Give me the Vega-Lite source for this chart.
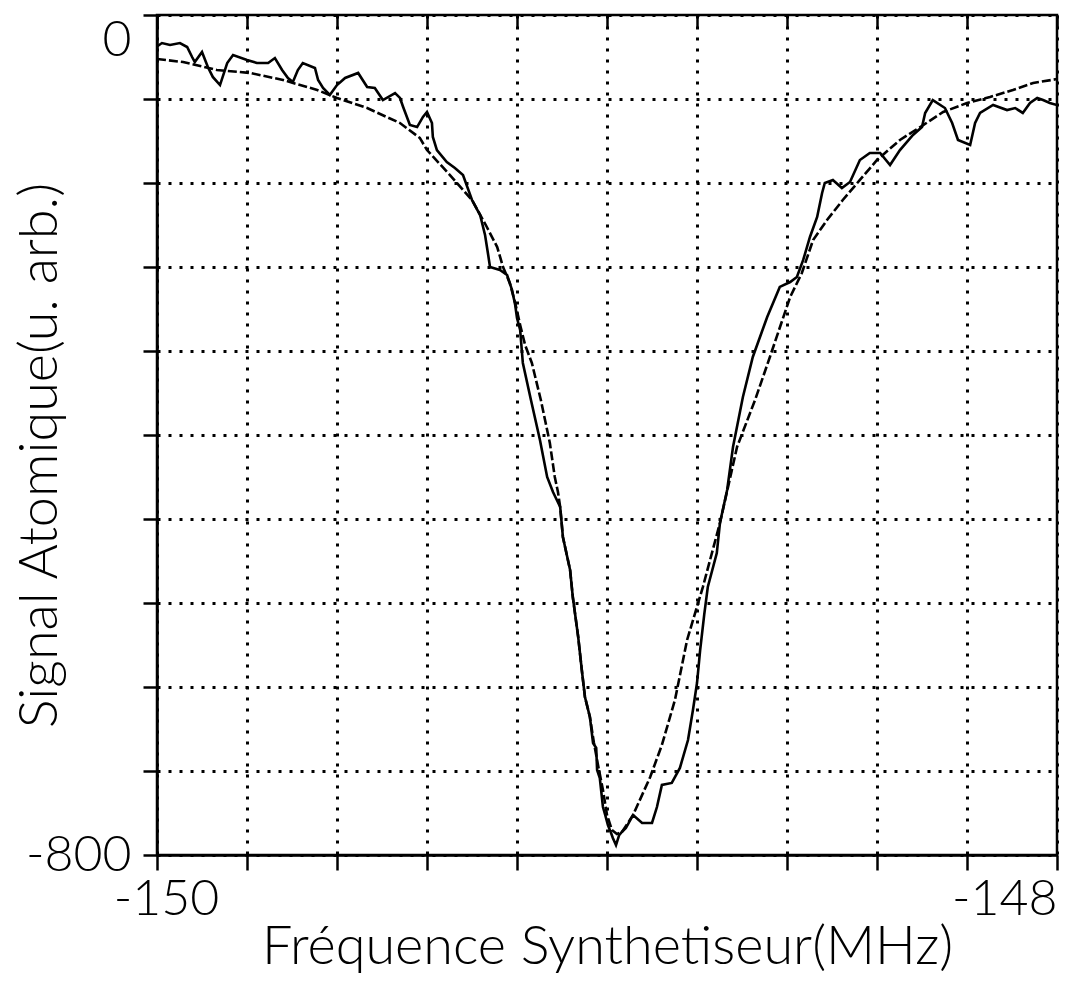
{
  "$schema": "https://vega.github.io/schema/vega-lite/v6.json",
  "width": 900,
  "height": 840,
  "autosize": "none",
  "padding": {"left": 157, "top": 15, "right": 8, "bottom": 128},
  "background": "white",
  "config": {
    "view": {"stroke": "black", "strokeWidth": 2.5},
    "font": "Lato",
    "axis": {
      "labelFont": "Lato",
      "titleFont": "Lato",
      "labelFontWeight": 300,
      "titleFontWeight": 300,
      "labelColor": "black",
      "titleColor": "black",
      "labelFontSize": 50,
      "titleFontSize": 54,
      "domainColor": "black",
      "domainWidth": 2.5,
      "tickColor": "black",
      "tickWidth": 2.5,
      "gridColor": "black",
      "gridOpacity": 1,
      "gridWidth": 3,
      "gridDash": [3, 8]
    }
  },
  "datasets": {
    "fit": [
      {"f": -150.0, "s": -41.9}, {"f": -149.942, "s": -44.8}, {"f": -149.867, "s": -52.4},
      {"f": -149.793, "s": -55.2}, {"f": -149.72, "s": -61.9}, {"f": -149.644, "s": -71.4},
      {"f": -149.6, "s": -79.0}, {"f": -149.533, "s": -88.6}, {"f": -149.46, "s": -102.9},
      {"f": -149.416, "s": -117.1}, {"f": -149.4, "s": -128.6}, {"f": -149.349, "s": -152.4},
      {"f": -149.3, "s": -176.2}, {"f": -149.267, "s": -201.9}, {"f": -149.244, "s": -221.0},
      {"f": -149.231, "s": -240.0}, {"f": -149.216, "s": -255.2}, {"f": -149.204, "s": -274.3},
      {"f": -149.193, "s": -295.2}, {"f": -149.182, "s": -314.3}, {"f": -149.167, "s": -331.4},
      {"f": -149.147, "s": -366.7}, {"f": -149.127, "s": -407.6}, {"f": -149.116, "s": -440.0},
      {"f": -149.109, "s": -454.3}, {"f": -149.104, "s": -468.6}, {"f": -149.098, "s": -497.1},
      {"f": -149.082, "s": -528.6}, {"f": -149.076, "s": -554.3}, {"f": -149.064, "s": -592.4},
      {"f": -149.056, "s": -623.8}, {"f": -149.049, "s": -649.5}, {"f": -149.038, "s": -668.6},
      {"f": -149.029, "s": -693.3}, {"f": -149.02, "s": -714.3}, {"f": -149.009, "s": -738.1},
      {"f": -149.0, "s": -761.9}, {"f": -148.989, "s": -776.2}, {"f": -148.978, "s": -780.0},
      {"f": -148.967, "s": -778.1}, {"f": -148.942, "s": -761.9}, {"f": -148.904, "s": -725.7},
      {"f": -148.878, "s": -695.2}, {"f": -148.849, "s": -652.4}, {"f": -148.822, "s": -595.2},
      {"f": -148.787, "s": -544.8}, {"f": -148.749, "s": -483.8}, {"f": -148.711, "s": -411.4},
      {"f": -148.671, "s": -366.7}, {"f": -148.638, "s": -325.7}, {"f": -148.593, "s": -268.6},
      {"f": -148.567, "s": -245.7}, {"f": -148.542, "s": -214.3}, {"f": -148.511, "s": -195.2},
      {"f": -148.476, "s": -176.2}, {"f": -148.438, "s": -157.1}, {"f": -148.4, "s": -138.1},
      {"f": -148.349, "s": -119.0}, {"f": -148.304, "s": -106.7}, {"f": -148.253, "s": -92.4},
      {"f": -148.2, "s": -83.8}, {"f": -148.149, "s": -78.1}, {"f": -148.098, "s": -71.4},
      {"f": -148.053, "s": -64.8}, {"f": -148.0, "s": -61.0}
    ],
    "mesure": [
      {"f": -150.0, "s": -30.0},
      {"f": -149.989, "s": -26.7}, {"f": -149.971, "s": -28.6}, {"f": -149.949, "s": -26.7},
      {"f": -149.933, "s": -30.5}, {"f": -149.922, "s": -40.0}, {"f": -149.916, "s": -44.8},
      {"f": -149.9, "s": -35.2}, {"f": -149.887, "s": -49.5}, {"f": -149.876, "s": -59.0},
      {"f": -149.86, "s": -66.7}, {"f": -149.844, "s": -45.7}, {"f": -149.831, "s": -38.1},
      {"f": -149.8, "s": -42.9}, {"f": -149.778, "s": -45.7}, {"f": -149.753, "s": -45.7},
      {"f": -149.738, "s": -41.0}, {"f": -149.722, "s": -52.4}, {"f": -149.709, "s": -60.0},
      {"f": -149.698, "s": -63.8}, {"f": -149.687, "s": -52.4}, {"f": -149.676, "s": -45.7},
      {"f": -149.649, "s": -50.5}, {"f": -149.642, "s": -61.9}, {"f": -149.631, "s": -69.5},
      {"f": -149.616, "s": -76.2}, {"f": -149.6, "s": -66.7}, {"f": -149.582, "s": -60.0},
      {"f": -149.553, "s": -55.2}, {"f": -149.533, "s": -68.6}, {"f": -149.516, "s": -69.5},
      {"f": -149.498, "s": -81.0}, {"f": -149.471, "s": -74.3}, {"f": -149.46, "s": -79.0},
      {"f": -149.453, "s": -87.6}, {"f": -149.438, "s": -104.8}, {"f": -149.422, "s": -106.7},
      {"f": -149.409, "s": -97.1}, {"f": -149.4, "s": -92.4}, {"f": -149.389, "s": -102.9},
      {"f": -149.387, "s": -116.2}, {"f": -149.378, "s": -128.6}, {"f": -149.356, "s": -140.0},
      {"f": -149.338, "s": -145.7}, {"f": -149.32, "s": -152.4}, {"f": -149.3, "s": -176.2},
      {"f": -149.282, "s": -190.5}, {"f": -149.271, "s": -209.5}, {"f": -149.264, "s": -228.6},
      {"f": -149.26, "s": -240.0}, {"f": -149.238, "s": -242.9}, {"f": -149.222, "s": -247.6},
      {"f": -149.211, "s": -261.9}, {"f": -149.204, "s": -276.2}, {"f": -149.2, "s": -288.6},
      {"f": -149.193, "s": -300.0}, {"f": -149.189, "s": -321.0}, {"f": -149.187, "s": -331.4},
      {"f": -149.169, "s": -366.7}, {"f": -149.149, "s": -404.8}, {"f": -149.133, "s": -440.0},
      {"f": -149.12, "s": -454.3}, {"f": -149.104, "s": -468.6}, {"f": -149.098, "s": -497.1},
      {"f": -149.082, "s": -528.6}, {"f": -149.076, "s": -554.3}, {"f": -149.064, "s": -592.4},
      {"f": -149.056, "s": -623.8}, {"f": -149.049, "s": -649.5}, {"f": -149.038, "s": -668.6},
      {"f": -149.031, "s": -693.3}, {"f": -149.024, "s": -698.1}, {"f": -149.022, "s": -719.0},
      {"f": -149.016, "s": -726.7}, {"f": -149.009, "s": -754.3}, {"f": -149.004, "s": -761.9},
      {"f": -148.998, "s": -771.4}, {"f": -148.991, "s": -779.0}, {"f": -148.987, "s": -783.8},
      {"f": -148.98, "s": -790.5}, {"f": -148.973, "s": -781.0}, {"f": -148.967, "s": -778.1},
      {"f": -148.958, "s": -774.3}, {"f": -148.942, "s": -761.9}, {"f": -148.922, "s": -769.5},
      {"f": -148.9, "s": -769.5}, {"f": -148.889, "s": -754.3}, {"f": -148.878, "s": -733.3},
      {"f": -148.856, "s": -731.4}, {"f": -148.838, "s": -717.1}, {"f": -148.82, "s": -690.5},
      {"f": -148.809, "s": -661.9}, {"f": -148.8, "s": -636.2}, {"f": -148.793, "s": -604.8},
      {"f": -148.784, "s": -571.4}, {"f": -148.776, "s": -544.8}, {"f": -148.756, "s": -512.4},
      {"f": -148.749, "s": -483.8}, {"f": -148.733, "s": -452.4}, {"f": -148.72, "s": -411.4},
      {"f": -148.698, "s": -363.8}, {"f": -148.676, "s": -325.7}, {"f": -148.644, "s": -287.6},
      {"f": -148.616, "s": -259.0}, {"f": -148.593, "s": -254.3}, {"f": -148.578, "s": -249.5},
      {"f": -148.564, "s": -233.3}, {"f": -148.549, "s": -211.4}, {"f": -148.533, "s": -192.4},
      {"f": -148.522, "s": -169.5}, {"f": -148.516, "s": -160.0}, {"f": -148.498, "s": -157.1},
      {"f": -148.478, "s": -164.8}, {"f": -148.46, "s": -159.0}, {"f": -148.438, "s": -138.1},
      {"f": -148.416, "s": -131.4}, {"f": -148.393, "s": -131.4}, {"f": -148.371, "s": -142.9},
      {"f": -148.349, "s": -128.6}, {"f": -148.32, "s": -114.3}, {"f": -148.3, "s": -106.7},
      {"f": -148.293, "s": -93.3}, {"f": -148.276, "s": -81.0}, {"f": -148.249, "s": -88.6},
      {"f": -148.233, "s": -102.9}, {"f": -148.22, "s": -119.0}, {"f": -148.193, "s": -123.8},
      {"f": -148.182, "s": -102.9}, {"f": -148.171, "s": -93.3}, {"f": -148.142, "s": -85.7},
      {"f": -148.111, "s": -90.5}, {"f": -148.093, "s": -88.6}, {"f": -148.076, "s": -93.3},
      {"f": -148.06, "s": -83.8}, {"f": -148.044, "s": -79.0}, {"f": -148.031, "s": -81.0},
      {"f": -148.016, "s": -83.8}, {"f": -148.0, "s": -85.7}
    ]
  },
  "encoding": {
    "y": {
      "field": "s",
      "type": "quantitative",
      "scale": {"domain": [-800, 0], "nice": false, "zero": false},
      "axis": {
        "values": [0, -80, -160, -240, -320, -400, -480, -560, -640, -720, -800],
        "labelExpr": "datum.value == 0 ? '0' : (datum.value == -800 ? '-800' : '')",
        "labelBaseline": {"condition": {"test": "datum.value == 0", "value": "top"}, "value": "middle"},
        "tickSize": 14,
        "labelPadding": 12,
        "title": "Signal Atomique(u. arb.)",
        "titleFontSize": 54,
        "titleX": -117,
        "titleY": 440,
        "titleAngle": -90,
        "titleAlign": "center",
        "titleBaseline": "middle"
      }
    }
  },
  "layer": [
    {
      "data": {"name": "fit"},
      "mark": {"type": "line", "color": "black", "strokeWidth": 2.6, "strokeDash": [9, 3], "clip": true},
      "encoding": {
        "x": {
          "field": "f",
          "type": "quantitative",
          "scale": {"domain": [-150, -148], "nice": false, "zero": false},
          "axis": {
            "values": [-150, -149.8, -149.6, -149.4, -149.2, -149, -148.8, -148.6, -148.4, -148.2, -148],
            "labelExpr": "abs(datum.value + 150) < 0.001 ? '-150' : (abs(datum.value + 148) < 0.001 ? '-148' : '')",
            "labelAlign": {"condition": {"test": "datum.value > -149", "value": "right"}, "value": "center"},
            "labelOffset": {"condition": {"test": "datum.value < -149", "value": 9}, "value": 0},
            "labelBaseline": "top",
            "tickSize": 15,
            "labelPadding": 4,
            "title": "Fréquence Synthetiseur(MHz)",
            "titleY": 92,
            "titleBaseline": "middle"
          }
        }
      }
    },
    {
      "data": {"name": "mesure"},
      "mark": {"type": "line", "color": "black", "strokeWidth": 2.6, "clip": true},
      "encoding": {
        "x": {
          "field": "f",
          "type": "quantitative",
          "scale": {"domain": [-150, -148], "nice": false, "zero": false},
          "axis": {
            "values": [-150, -149.8, -149.6, -149.4, -149.2, -149, -148.8, -148.6, -148.4, -148.2, -148],
            "labels": false,
            "domain": false,
            "grid": false,
            "tickSize": -12,
            "title": null
          }
        }
      }
    }
  ],
  "resolve": {"axis": {"x": "independent"}}
}
